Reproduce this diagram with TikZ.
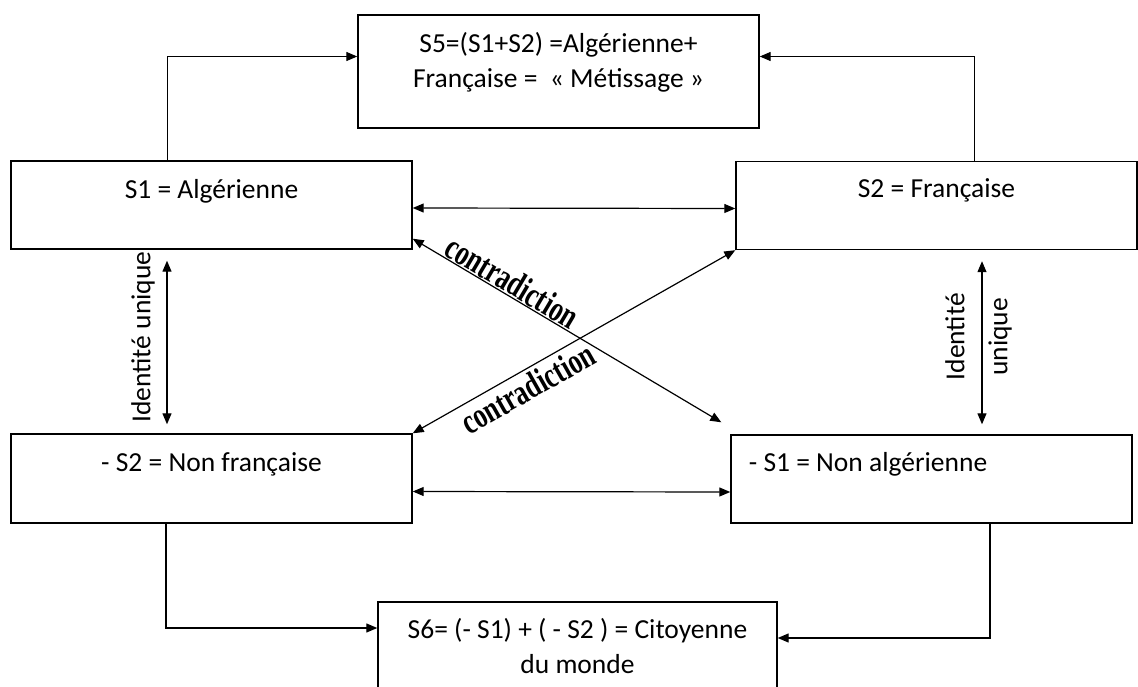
\documentclass[tikz,border=0pt]{standalone}
\usepackage{graphicx}
\usepackage{fontspec}
\setmainfont{Carlito}
\newfontfamily\contrafont{Liberation Serif}
\usetikzlibrary{arrows.meta,positioning}

\begin{document}
\begin{tikzpicture}[x=1pt, y=-1pt, line width=1.2pt,
	box/.style={draw, line width=1.4pt, minimum width=401pt, minimum height=88pt, inner sep=0pt},
	txt/.style={inner sep=0pt, font=\fontsize{27.5}{35}\selectfont, align=center},
	lbl/.style={inner sep=0pt, font=\fontsize{27.5}{43}\selectfont, align=center, rotate=90},
	contra/.style={inner sep=1pt, font=\contrafont\bfseries\fontsize{36}{36}\selectfont, sloped},
	>={Triangle[length=11pt,width=9pt]}]
	\useasboundingbox (0,0) rectangle (1138,687);
	\node[box, minimum height=113pt] (s5) at (558.5,71.5) {};
	\node[box] (s1) at (211.5,205) {};
	\node[box] (s2) at (936.5,205.5) {};
	\node[box, minimum height=89pt] (ns2) at (211.5,478.5) {};
	\node[box] (ns1) at (931.5,479) {};
	\node[box, minimum width=399pt, minimum height=90pt] (s6) at (577.5,647) {};
	\node[txt, below=48pt of s5.north, anchor=center] {S5=(S1+S2) =Algérienne+\\Française =\ \ « Métissage »};
	\node[txt, below=31pt of s1.north, anchor=center] {S1 = Algérienne};
	\node[txt, below=30pt of s2.north, anchor=center] {S2 = Française};
	\node[txt, below=31pt of ns2.north, anchor=center] {- S2 = Non française};
	\node[txt, below right=30pt and 18pt of ns1.north west, anchor=west] {- S1 = Non algérienne};
	\node[txt, below=45pt of s6.north, anchor=center] {S6= (- S1) + ( - S2 ) = Citoyenne\\du monde};
	\draw[->] ([xshift=-44pt]s1.north) |- ([yshift=15pt]s5.west);
	\draw[->] ([xshift=38pt]s2.north) |- ([yshift=15pt]s5.east);
	\draw[<->] ([yshift=-3pt]s1.east) -- ([yshift=-3pt]s2.west);
	\draw[<->] ([yshift=-13pt]ns2.east) -- ([yshift=-13pt]ns1.west);
	\draw[<->] ([xshift=-44.5pt,yshift=-11pt]s1.south) -- ([xshift=-44.5pt,yshift=9pt]ns2.north)
		node[midway, xshift=-24pt, yshift=5.5pt, lbl] {Identité unique};
	\draw[<->] ([xshift=45.5pt,yshift=-11pt]s2.south) -- ([xshift=50.5pt,yshift=10pt]ns1.north)
		node[midway, xshift=-3.5pt, yshift=6pt, lbl] {Identité\\unique};
	\draw[<->] ([yshift=11pt]s1.south east) -- ([shift={(-9pt,12pt)}]ns1.north west)
		node[contra, pos=0.3, above] {\scalebox{0.72}[1]{contradiction}};
	\draw[<->] (ns2.north east) -- (s2.south west)
		node[contra, pos=0.33, below, inner sep=4pt] {\scalebox{0.72}[1]{contradiction}};
	\draw[->] ([xshift=-45.5pt]ns2.south) |- ([yshift=19pt]s6.west);
	\draw[->] ([xshift=58.5pt]ns1.south) |- ([yshift=9pt]s6.east);
\end{tikzpicture}
\end{document}
